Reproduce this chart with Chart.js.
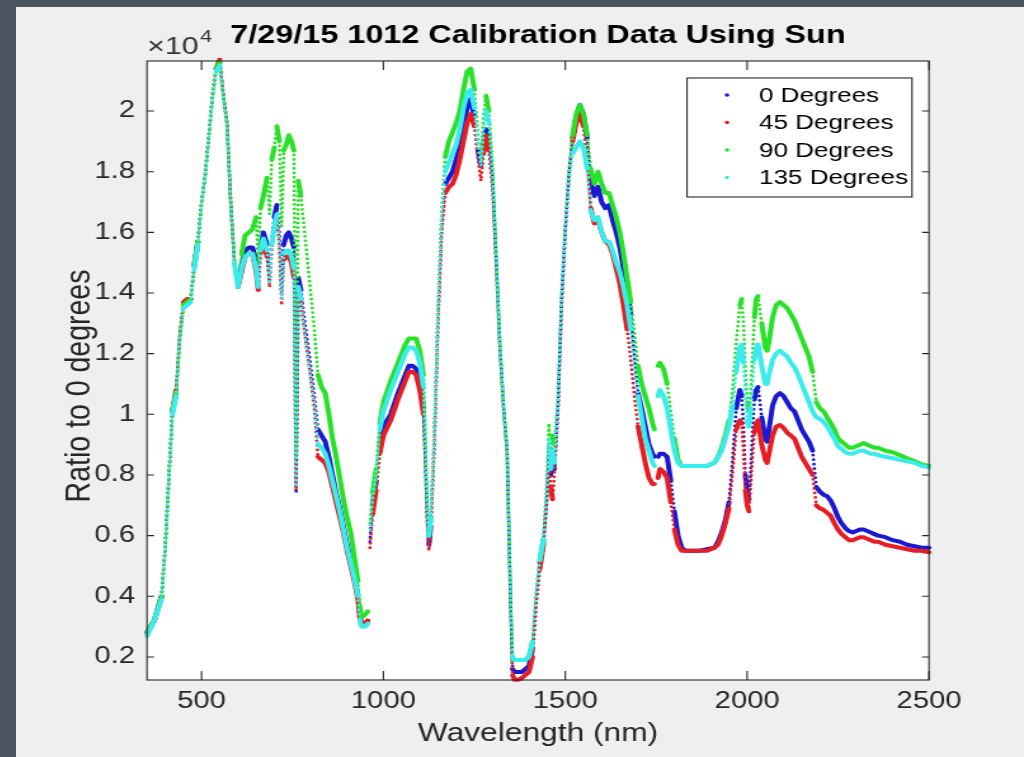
<!DOCTYPE html>
<html>
<head>
<meta charset="utf-8">
<script src="https://cdn.jsdelivr.net/npm/chart.js@4.4.0/dist/chart.umd.min.js"></script>
<style>
  html, body { margin: 0; padding: 0; width: 1024px; height: 757px; overflow: hidden; background: #4a545e; }
  #fig { position: absolute; left: 16px; top: 7px; width: 1008px; height: 750px; background: #efefef; }
  #plot { position: absolute; left: 0; top: 0; }
</style>
</head>
<body>
<div id="fig"><canvas id="plot" width="794" height="750" style="width:1008px;height:750px"></canvas></div>
<script>
// Chart data (values are in units of 10^4, as on the axis) ---------------------
const TITLE = '7/29/15 1012 Calibration Data Using Sun';
const X_TITLE = 'Wavelength (nm)';
const Y_TITLE = 'Ratio to 0 degrees';
const seriesNames = ['0 Degrees', '45 Degrees', '90 Degrees', '135 Degrees'];
const seriesColors = ['#1919d2', '#e61e23', '#28e128', '#3cebeb'];
const xTicks = [500, 1000, 1500, 2000, 2500];
const yTicks = [0.2, 0.4, 0.6, 0.8, 1, 1.2, 1.4, 1.6, 1.8, 2];

const wavelengths = [
  350, 370, 390, 400, 410, 420, 430, 440, 450, 460,
  470, 480, 490, 500, 510, 520, 530, 540, 550, 560,
  570, 580, 590, 600, 610, 620, 630, 640, 650, 656,
  662, 670, 680, 687, 693, 700, 707, 714, 720, 726,
  733, 740, 747, 754, 760, 766, 773, 780, 790, 800,
  810, 820, 830, 840, 850, 860, 870, 880, 890, 900,
  910, 920, 930, 935, 940, 950, 957, 960, 963, 970,
  980, 990, 1000, 1020, 1040, 1060, 1070, 1080, 1090, 1100,
  1110, 1115, 1120, 1125, 1130, 1135, 1140, 1150, 1160, 1170,
  1180, 1190, 1200, 1210, 1220, 1230, 1240, 1250, 1260, 1268,
  1275, 1282, 1290, 1300, 1310, 1320, 1330, 1340, 1345, 1350,
  1355, 1360, 1370, 1380, 1390, 1400, 1410, 1420, 1430, 1440,
  1450, 1455, 1460, 1465, 1470, 1480, 1490, 1500, 1510, 1520,
  1530, 1540, 1550, 1560, 1570, 1580, 1590, 1600, 1610, 1620,
  1630, 1640, 1650, 1660, 1670, 1680, 1690, 1700, 1710, 1720,
  1730, 1740, 1745, 1750, 1755, 1760, 1770, 1780, 1790, 1800,
  1810, 1820, 1830, 1850, 1870, 1890, 1910, 1920, 1930, 1940,
  1950, 1960, 1970, 1980, 1985, 1990, 1995, 2000, 2005, 2010,
  2015, 2020, 2025, 2030, 2040, 2050, 2055, 2060, 2070, 2080,
  2090, 2100, 2110, 2120, 2130, 2140, 2150, 2160, 2170, 2180,
  2190, 2200, 2210, 2220, 2230, 2240, 2250, 2260, 2270, 2280,
  2290, 2300, 2310, 2320, 2330, 2340, 2350, 2360, 2380, 2400,
  2420, 2440, 2460, 2480, 2500
];

const deg0 = [
  0.28, 0.32, 0.40, 0.56, 0.79, 1.01, 1.07, 1.25, 1.36, 1.37,
  1.38, 1.49, 1.57, 1.70, 1.79, 1.92, 2.05, 2.14, 2.16, 2.05,
  1.96, 1.70, 1.51, 1.42, 1.49, 1.54, 1.55, 1.55, 1.51, 1.43,
  1.55, 1.60, 1.56, 1.44, 1.58, 1.65, 1.69, 1.60, 1.40, 1.56,
  1.59, 1.60, 1.58, 1.55, 0.74, 1.45, 1.41, 1.34, 1.25, 1.16,
  1.06, 0.95, 0.93, 0.91, 0.86, 0.80, 0.74, 0.69, 0.63, 0.57,
  0.52, 0.47, 0.40, 0.33, 0.31, 0.31, 0.32, null, 0.58, 0.70,
  0.78, 0.90, 0.96, 1.00, 1.07, 1.13, 1.16, 1.16, 1.15, 1.10,
  1.02, 0.86, 0.67, 0.57, 0.63, 0.77, 0.91, 1.31, 1.62, 1.76,
  1.78, 1.80, 1.84, 1.88, 1.95, 2.01, 2.04, 1.98, 1.87, 1.82,
  1.89, 1.94, 1.92, 1.78, 1.51, 1.23, 1.03, 0.88, 0.62, 0.36,
  0.16, 0.15, 0.15, 0.15, 0.16, 0.17, 0.23, 0.39, 0.51, 0.58,
  0.74, 0.90, 0.80, 0.86, 0.82, 1.03, 1.38, 1.61, 1.79, 1.91,
  1.98, 2.02, 1.99, 1.91, 1.77, 1.72, 1.75, 1.70, 1.68, 1.69,
  1.64, 1.60, 1.55, 1.48, 1.41, 1.33, 1.19, 1.07, 1.02, 0.96,
  0.90, 0.87, 0.86, null, 0.86, 0.87, 0.87, 0.86, 0.78, 0.68,
  0.60, 0.56, 0.55, 0.55, 0.55, 0.555, 0.56, 0.58, 0.61, 0.65,
  0.71, 0.85, 1.02, 1.08, 1.06, 0.96, 0.80, 0.74, 0.72, 0.82,
  0.95, 1.05, 1.08, 1.09, 0.99, 0.92, 0.91, 0.95, 1.03, 1.06,
  1.07, 1.06, 1.04, 1.02, 1.01, 0.98, 0.95, 0.93, 0.91, 0.88,
  0.76, 0.745, 0.735, 0.73, 0.715, 0.69, 0.66, 0.64, 0.625, 0.615,
  0.61, 0.615, 0.62, 0.62, 0.615, 0.61, 0.605, 0.60, 0.595, 0.585,
  0.58, 0.57, 0.565, 0.56, 0.56
];

const deg45 = [
  0.28, 0.32, 0.40, 0.56, 0.79, 1.01, 1.08, 1.26, 1.37, 1.38,
  1.38, 1.49, 1.57, 1.70, 1.79, 1.92, 2.05, 2.14, 2.17, 2.05,
  1.96, 1.70, 1.51, 1.42, 1.47, 1.52, 1.53, 1.53, 1.47, 1.41,
  1.53, 1.57, 1.52, 1.42, 1.54, 1.61, 1.65, 1.55, 1.36, 1.51,
  1.52, 1.52, 1.50, 1.45, 0.75, 1.40, 1.37, 1.30, 1.21, 1.12,
  1.02, 0.86, 0.85, 0.84, 0.81, 0.76, 0.71, 0.66, 0.61, 0.55,
  0.50, 0.45, 0.39, 0.33, 0.31, 0.31, 0.32, null, 0.56, 0.67,
  0.75, 0.87, 0.93, 0.98, 1.05, 1.11, 1.14, 1.14, 1.13, 1.08,
  1.00, 0.84, 0.65, 0.55, 0.62, 0.76, 0.90, 1.30, 1.60, 1.73,
  1.75, 1.76, 1.79, 1.84, 1.90, 1.96, 1.99, 1.95, 1.84, 1.77,
  1.86, 1.92, 1.87, 1.74, 1.49, 1.22, 1.02, 0.87, 0.61, 0.35,
  0.14, 0.125, 0.125, 0.13, 0.14, 0.15, 0.20, 0.37, 0.49, 0.57,
  0.72, 0.86, 0.76, 0.72, 0.80, 1.01, 1.36, 1.60, 1.78, 1.90,
  1.96, 1.99, 1.95, 1.84, 1.68, 1.63, 1.64, 1.60, 1.57, 1.56,
  1.53, 1.48, 1.43, 1.36, 1.28, 1.18, 1.06, 0.96, 0.90, 0.84,
  0.79, 0.77, 0.77, null, 0.79, 0.82, 0.81, 0.79, 0.71, 0.62,
  0.57, 0.55, 0.55, 0.55, 0.55, 0.55, 0.56, 0.57, 0.60, 0.64,
  0.69, 0.81, 0.95, 0.98, 0.97, 0.88, 0.75, 0.70, 0.68, 0.77,
  0.87, 0.94, 0.97, 0.98, 0.90, 0.85, 0.84, 0.87, 0.93, 0.96,
  0.965, 0.955, 0.94, 0.93, 0.92, 0.89, 0.86, 0.84, 0.82, 0.80,
  0.70, 0.69, 0.685, 0.675, 0.665, 0.64, 0.62, 0.605, 0.595, 0.585,
  0.585, 0.59, 0.595, 0.595, 0.59, 0.585, 0.58, 0.58, 0.57, 0.565,
  0.56, 0.555, 0.55, 0.55, 0.545
];

const deg90 = [
  0.28, 0.32, 0.40, 0.56, 0.79, 1.01, 1.07, 1.25, 1.36, 1.37,
  1.38, 1.49, 1.57, 1.70, 1.79, 1.92, 2.05, 2.14, 2.16, 2.05,
  1.96, 1.70, 1.51, 1.42, 1.53, 1.59, 1.60, 1.61, 1.65, 1.50,
  1.68, 1.72, 1.78, 1.66, 1.84, 1.88, 1.95, 1.90, 1.62, 1.87,
  1.89, 1.92, 1.90, 1.87, 0.86, 1.77, 1.72, 1.64, 1.52, 1.40,
  1.28, 1.13, 1.09, 1.07, 1.00, 0.92, 0.86, 0.79, 0.72, 0.66,
  0.61, 0.53, 0.45, 0.37, 0.33, 0.34, 0.35, null, 0.64, 0.74,
  0.82, 0.97, 1.04, 1.11, 1.17, 1.23, 1.25, 1.25, 1.25, 1.21,
  1.13, 0.95, 0.72, 0.60, 0.66, 0.80, 0.94, 1.34, 1.68, 1.85,
  1.90, 1.93, 1.96, 2.00, 2.07, 2.13, 2.14, 2.07, 1.92, 1.83,
  1.98, 2.05, 2.00, 1.82, 1.53, 1.24, 1.03, 0.88, 0.63, 0.37,
  0.19, 0.19, 0.19, 0.19, 0.19, 0.20, 0.25, 0.41, 0.52, 0.59,
  0.80, 0.97, 0.86, 0.93, 0.90, 1.05, 1.40, 1.62, 1.80, 1.92,
  1.99, 2.02, 1.99, 1.92, 1.81, 1.76, 1.80, 1.76, 1.73, 1.73,
  1.69, 1.65, 1.60, 1.53, 1.45, 1.37, 1.27, 1.16, 1.10, 1.06,
  1.02, 0.97, 0.95, null, 1.16, 1.17, 1.15, 1.10, 1.01, 0.92,
  0.85, 0.83, 0.83, 0.83, 0.83, 0.83, 0.84, 0.86, 0.89, 0.93,
  0.98, 1.08, 1.24, 1.36, 1.38, 1.30, 1.15, 1.04, 1.01, 1.08,
  1.20, 1.32, 1.38, 1.39, 1.30, 1.22, 1.21, 1.24, 1.32, 1.36,
  1.37, 1.36, 1.35, 1.33, 1.31, 1.28, 1.25, 1.22, 1.19, 1.14,
  1.04, 1.02, 1.01, 0.99, 0.97, 0.95, 0.92, 0.91, 0.90, 0.89,
  0.89, 0.895, 0.90, 0.905, 0.90, 0.895, 0.89, 0.89, 0.88, 0.875,
  0.865, 0.855, 0.845, 0.835, 0.83
];

const deg135 = [
  0.27, 0.32, 0.39, 0.55, 0.78, 1.00, 1.06, 1.24, 1.35, 1.36,
  1.37, 1.48, 1.56, 1.69, 1.78, 1.91, 2.04, 2.13, 2.15, 2.04,
  1.95, 1.69, 1.50, 1.42, 1.48, 1.52, 1.53, 1.53, 1.48, 1.42,
  1.54, 1.58, 1.54, 1.43, 1.56, 1.62, 1.66, 1.56, 1.38, 1.53,
  1.54, 1.54, 1.52, 1.48, 0.76, 1.42, 1.38, 1.30, 1.21, 1.12,
  1.03, 0.90, 0.89, 0.87, 0.83, 0.78, 0.73, 0.68, 0.62, 0.56,
  0.51, 0.46, 0.40, 0.32, 0.30, 0.30, 0.31, null, 0.62, 0.72,
  0.81, 0.95, 1.01, 1.08, 1.14, 1.20, 1.22, 1.22, 1.21, 1.17,
  1.09, 0.92, 0.70, 0.60, 0.66, 0.79, 0.93, 1.33, 1.66, 1.80,
  1.83, 1.86, 1.89, 1.94, 2.01, 2.06, 2.07, 2.01, 1.89, 1.82,
  1.93, 2.00, 1.96, 1.80, 1.52, 1.24, 1.03, 0.88, 0.63, 0.37,
  0.20, 0.19, 0.19, 0.19, 0.19, 0.20, 0.25, 0.41, 0.52, 0.59,
  0.75, 0.92, 0.82, 0.88, 0.84, 1.04, 1.39, 1.60, 1.77, 1.86,
  1.88, 1.90, 1.88, 1.81, 1.67, 1.64, 1.65, 1.60, 1.57, 1.57,
  1.54, 1.50, 1.47, 1.42, 1.36, 1.28, 1.16, 1.06, 0.99, 0.92,
  0.88, 0.84, 0.83, null, 1.06, 1.08, 1.06, 1.02, 0.95, 0.88,
  0.84, 0.83, 0.83, 0.83, 0.83, 0.83, 0.84, 0.86, 0.88, 0.92,
  0.96, 1.03, 1.14, 1.22, 1.23, 1.17, 1.06, 0.98, 0.96, 1.02,
  1.10, 1.18, 1.22, 1.23, 1.16, 1.10, 1.10, 1.13, 1.18, 1.20,
  1.21, 1.20, 1.19, 1.17, 1.155, 1.13, 1.10, 1.07, 1.04, 1.01,
  0.99, 0.985, 0.975, 0.96, 0.94, 0.92, 0.895, 0.885, 0.875, 0.87,
  0.87, 0.875, 0.88, 0.88, 0.875, 0.87, 0.87, 0.865, 0.86, 0.855,
  0.85, 0.845, 0.84, 0.83, 0.825
];

const seriesValues = [deg0, deg45, deg90, deg135];

// Layout -----------------------------------------------------------------------
// The figure is shown stretched sideways, so the canvas is drawn narrower and widened by CSS.
const FONT = 'Helvetica, "Liberation Sans", Arial, sans-serif';
const OX = 16, OY = 7;
const canvas = document.getElementById('plot');
const SX = 1008 / canvas.width;
const px = x => (x - OX) / SX;   // page x -> canvas x
const py = y => y - OY;          // page y -> canvas y

const AREA = { left: 147, right: 929, top: 61, bottom: 680 };  // plot box on the page
const Y_AXIS_W = 60, X_AXIS_H = 40;

// Steep runs were plotted as separate dots, so draw them dotted
const isSteep = ctx => {
  const dx = Math.abs(ctx.p1.x - ctx.p0.x) * SX;
  const dy = Math.abs(ctx.p1.y - ctx.p0.y);
  return dy > 20 && dy > 7 * dx;
};

const datasets = seriesNames.map((name, i) => ({
  label: name,
  data: wavelengths.map((w, j) => ({ x: w, y: seriesValues[i][j] })),
  borderColor: seriesColors[i],
  backgroundColor: seriesColors[i],
  borderWidth: 4,
  borderCapStyle: 'round',
  borderJoinStyle: 'round',
  pointRadius: 0,
  tension: 0,
  spanGaps: false,
  clip: 3,
  order: seriesNames.length - 1 - i,   // last series on top, like MATLAB hold on
  segment: {
    borderDash: ctx => isSteep(ctx) ? [0, 4.5] : undefined,
    borderWidth: ctx => isSteep(ctx) ? 2.8 : undefined
  }
}));

// Axes box, inward ticks, texts and legend in the MATLAB style
const matlabAxes = {
  id: 'matlabAxes',
  beforeDatasetsDraw(chart) {
    const { ctx, chartArea: a } = chart;
    ctx.save();
    ctx.fillStyle = '#ffffff';
    ctx.fillRect(a.left, a.top, a.right - a.left, a.bottom - a.top);
    ctx.restore();
  },
  afterDatasetsDraw(chart) {
    const { ctx, chartArea: a } = chart;
    const xs = chart.scales.x, ys = chart.scales.y;
    ctx.save();
    ctx.strokeStyle = '#262626';
    ctx.lineWidth = 1.1;
    ctx.beginPath();
    xTicks.forEach(v => {
      const x = xs.getPixelForValue(v);
      ctx.moveTo(x, a.bottom); ctx.lineTo(x, a.bottom - 9);
      ctx.moveTo(x, a.top); ctx.lineTo(x, a.top + 9);
    });
    yTicks.forEach(v => {
      const y = ys.getPixelForValue(v);
      ctx.moveTo(a.left, y); ctx.lineTo(a.left + 7 / SX, y);
      ctx.moveTo(a.right, y); ctx.lineTo(a.right - 7 / SX, y);
    });
    ctx.stroke();
    ctx.strokeRect(a.left, a.top, a.right - a.left, a.bottom - a.top);

    // title
    ctx.fillStyle = '#000000';
    ctx.font = 'bold 25.5px ' + FONT;
    ctx.textAlign = 'center';
    ctx.textBaseline = 'alphabetic';
    ctx.fillText(TITLE, (a.left + a.right) / 2, py(43));

    // exponent label
    ctx.fillStyle = '#333333';
    ctx.textAlign = 'left';
    ctx.font = '24px ' + FONT;
    ctx.fillText('\u00d710', px(147), py(54));
    const w = ctx.measureText('\u00d710').width;
    ctx.font = '17px ' + FONT;
    ctx.fillText('4', px(147) + w + 1, py(42));

    // axis titles
    ctx.fillStyle = '#262626';
    ctx.font = '25px ' + FONT;
    ctx.textAlign = 'center';
    ctx.fillText(X_TITLE, (a.left + a.right) / 2, py(741));
    ctx.save();
    ctx.font = '28.5px ' + FONT;
    ctx.translate(px(89), py(386));
    ctx.rotate(-Math.PI / 2);
    ctx.fillText(Y_TITLE, 0, 0);
    ctx.restore();

    // legend
    const L = { left: px(687), right: px(912), top: py(78), bottom: py(197) };
    ctx.fillStyle = '#ffffff';
    ctx.fillRect(L.left, L.top, L.right - L.left, L.bottom - L.top);
    ctx.strokeStyle = '#262626';
    ctx.lineWidth = 1.1;
    ctx.strokeRect(L.left, L.top, L.right - L.left, L.bottom - L.top);
    ctx.font = '20.5px ' + FONT;
    ctx.textAlign = 'left';
    ctx.textBaseline = 'middle';
    seriesNames.forEach((name, i) => {
      const y = py(95 + i * 27.5);
      ctx.fillStyle = seriesColors[i];
      ctx.beginPath();
      ctx.arc(px(727), y, 1.8, 0, Math.PI * 2);
      ctx.fill();
      ctx.fillStyle = '#000000';
      ctx.fillText(name, px(759), y + 1);
    });
    ctx.restore();
  }
};

new Chart(canvas, {
  type: 'line',
  data: { datasets },
  options: {
    responsive: false,
    animation: false,
    devicePixelRatio: 1,
    events: [],
    layout: {
      padding: {
        left: px(AREA.left) - Y_AXIS_W,
        right: canvas.width - px(AREA.right),
        top: py(AREA.top),
        bottom: canvas.height - py(AREA.bottom) - X_AXIS_H
      }
    },
    plugins: {
      legend: { display: false },
      title: { display: false },
      tooltip: { enabled: false }
    },
    scales: {
      x: {
        type: 'linear',
        min: 350,
        max: 2500,
        afterBuildTicks: s => { s.ticks = xTicks.map(v => ({ value: v })); },
        afterFit: s => { s.height = X_AXIS_H; },
        grid: { display: false, drawTicks: false },
        border: { display: false },
        ticks: {
          autoSkip: false,
          maxRotation: 0,
          padding: 8,
          color: '#262626',
          font: { family: FONT, size: 23 },
          callback: v => String(v)
        }
      },
      y: {
        type: 'linear',
        min: 0.124,
        max: 2.165,
        afterBuildTicks: s => { s.ticks = yTicks.map(v => ({ value: v })); },
        afterFit: s => { s.width = Y_AXIS_W; },
        grid: { display: false, drawTicks: false },
        border: { display: false },
        ticks: {
          padding: 9.5,
          color: '#262626',
          font: { family: FONT, size: 23 },
          callback: v => String(+v.toFixed(1))
        }
      }
    }
  },
  plugins: [matlabAxes]
});
</script>
</body>
</html>
